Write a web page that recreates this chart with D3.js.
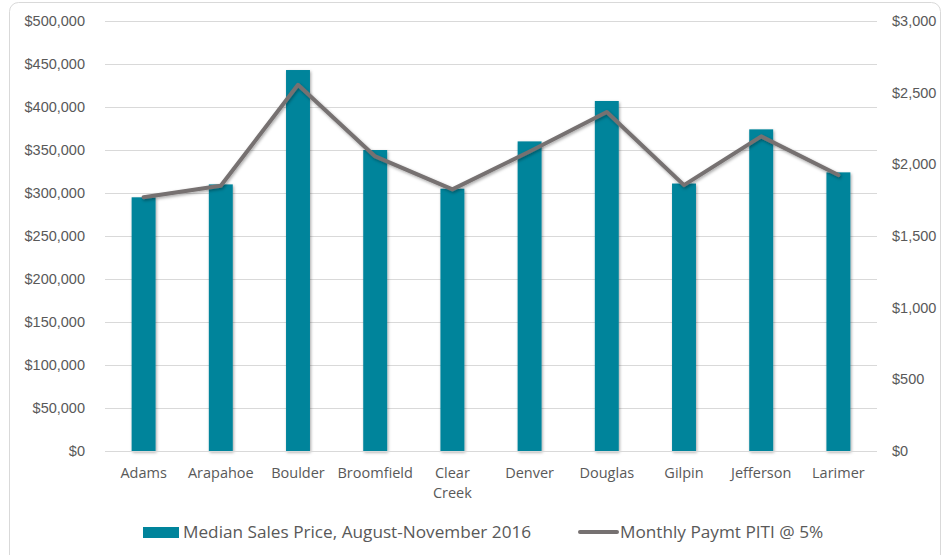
<!DOCTYPE html>
<html lang="en">
<head>
<meta charset="UTF-8">
<title>Median Sales Price</title>
<style>
  body { margin: 0; background: #fff; }
  svg { display: block; font-family: "Open Sans", "Noto Sans", sans-serif; }
</style>
</head>
<body>
<svg id="svg"></svg>
<script src="https://d3js.org/d3.v7.min.js"></script>
<script>
// data
const counties = ["Adams", "Arapahoe", "Boulder", "Broomfield", "Clear Creek",
                  "Denver", "Douglas", "Gilpin", "Jefferson", "Larimer"];
const medianPrice = [295000, 310000, 443000, 350000, 305000, 360000, 407000, 311000, 374000, 324000];
const monthlyPiti = [1770, 1850, 2555, 2055, 1825, 2090, 2365, 1855, 2195, 1925];
const leftTicks = d3.range(0, 500001, 50000);
const rightTicks = d3.range(0, 3001, 500);
const seriesNames = ["Median Sales Price, August-November 2016", "Monthly Paymt PITI @ 5%"];

const width = 943, height = 555;
const margin = {top: 21, left: 105, right: 66, bottom: 104};
const textColor = "#595959";
const barColor = "#00849b";
const lineColor = "#767171";

const svg = d3.select("#svg").attr("width", width).attr("height", height);

// drop shadow like the office chart
const defs = svg.append("defs");
const f = defs.append("filter").attr("id", "shadow")
  .attr("x", "-20%").attr("y", "-20%").attr("width", "140%").attr("height", "140%");
f.append("feDropShadow").attr("dx", 1).attr("dy", 1.5).attr("stdDeviation", 1.5)
  .attr("flood-color", "#000").attr("flood-opacity", 0.35);

// chart border
svg.append("rect")
  .attr("x", 9.5).attr("y", 2.5).attr("width", 931).attr("height", 580)
  .attr("rx", 9).attr("fill", "none").attr("stroke", "#d9d9d9");

const x = d3.scaleBand().domain(counties)
  .range([margin.left, width - margin.right]).paddingInner(0.69).paddingOuter(0.345);
const y = d3.scaleLinear().domain([0, 500000]).range([height - margin.bottom, margin.top]);
const y2 = d3.scaleLinear().domain([0, 3000]).range([height - margin.bottom, margin.top]);

// gridlines
svg.append("g").selectAll("line").data(leftTicks.slice(1)).join("line")
  .attr("x1", margin.left).attr("x2", width - margin.right)
  .attr("y1", d => Math.round(y(d)) + 0.5).attr("y2", d => Math.round(y(d)) + 0.5)
  .attr("stroke", "#d9d9d9").attr("stroke-width", 1);

// left axis
const fmt = d3.format("$,");
const leftAxis = svg.append("g")
  .attr("transform", `translate(${margin.left - 20},0)`)
  .call(d3.axisLeft(y).tickValues(leftTicks).tickFormat(fmt).tickSize(0).tickPadding(0));
leftAxis.select(".domain").remove();
leftAxis.selectAll("text").attr("fill", textColor).style("font-size", "14.5px");

// right axis
const rightAxis = svg.append("g")
  .attr("transform", `translate(${width - margin.right + 15},0)`)
  .call(d3.axisRight(y2).tickValues(rightTicks).tickFormat(fmt).tickSize(0).tickPadding(0));
rightAxis.select(".domain").remove();
rightAxis.selectAll("text").attr("fill", textColor).style("font-size", "14.5px");

// bars
svg.append("g").selectAll("rect").data(medianPrice).join("rect")
  .attr("x", (d, i) => x(counties[i]))
  .attr("width", x.bandwidth())
  .attr("y", d => y(d))
  .attr("height", d => y(0) - y(d))
  .attr("fill", barColor)
  .attr("filter", "url(#shadow)");

// baseline
svg.append("line")
  .attr("x1", margin.left).attr("x2", width - margin.right)
  .attr("y1", Math.round(y(0)) + 0.5).attr("y2", Math.round(y(0)) + 0.5)
  .attr("stroke", "#d9d9d9");

// line series
const line = d3.line()
  .x((d, i) => x(counties[i]) + x.bandwidth() / 2)
  .y(d => y2(d));
svg.append("path").datum(monthlyPiti)
  .attr("d", line)
  .attr("fill", "none")
  .attr("stroke", lineColor)
  .attr("stroke-width", 4)
  .attr("stroke-linejoin", "round")
  .attr("stroke-linecap", "round")
  .attr("filter", "url(#shadow)");

// category labels
const catG = svg.append("g");
counties.forEach(c => {
  const words = c.split(" ");
  const t = catG.append("text")
    .attr("x", x(c) + x.bandwidth() / 2)
    .attr("y", height - margin.bottom + 27)
    .attr("text-anchor", "middle")
    .attr("fill", textColor)
    .style("font-size", "14.5px");
  words.forEach((w, k) => {
    t.append("tspan").attr("x", x(c) + x.bandwidth() / 2).attr("dy", k === 0 ? 0 : 20).text(w);
  });
});

// legend
const lg = svg.append("g");
lg.append("rect").attr("x", 143).attr("y", 527).attr("width", 36).attr("height", 11).attr("fill", barColor);
lg.append("text").attr("x", 183).attr("y", 538).attr("fill", textColor)
  .style("font-size", "17.2px").text(seriesNames[0]);
lg.append("line").attr("x1", 580).attr("x2", 617).attr("y1", 532).attr("y2", 532)
  .attr("stroke", lineColor).attr("stroke-width", 4).attr("stroke-linecap", "round");
lg.append("text").attr("x", 620).attr("y", 538).attr("fill", textColor)
  .style("font-size", "17.2px").text(seriesNames[1]);
</script>
</body>
</html>
